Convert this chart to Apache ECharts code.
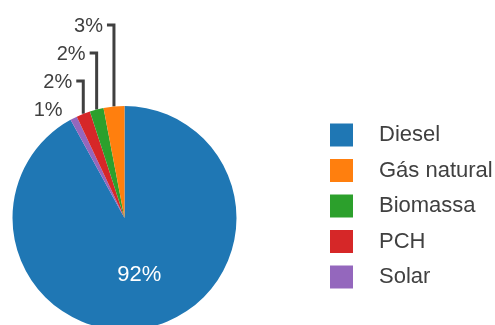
<!DOCTYPE html>
<html>
<head>
<meta charset="utf-8">
<script src="https://cdn.jsdelivr.net/npm/echarts@6/dist/echarts.min.js"></script>
<style>
  html, body { margin: 0; padding: 0; background: #ffffff; }
  #chart { width: 495px; height: 325px; }
</style>
</head>
<body>
<div id="chart"></div>
<script>
// Electricity generation share by source (%)
const categories = ['Diesel', 'Solar', 'PCH', 'Biomassa', 'Gás natural'];
const shares = [92, 1, 2, 2, 3];
const colors = ['#1f77b4', '#9467bd', '#d62728', '#2ca02c', '#ff7f0e'];
const legendOrder = ['Diesel', 'Gás natural', 'Biomassa', 'PCH', 'Solar'];

const CENTER = [124.5, 218];
const RADIUS = 112;
const TEXT = '#404040';

// Small slices get stepped labels above the pie, highest for the last slice.
function stepLevel(dataIndex) {
  const k = categories.length - 1 - dataIndex; // 0 for the last slice
  return CENTER[1] - RADIUS - 81 + 28 * k;
}

const data = categories.map((name, i) => ({
  name: name,
  value: shares[i],
  itemStyle: { color: colors[i] },
  label: i === 0
    ? { position: 'inside', color: '#ffffff', fontSize: 22 }
    : { position: 'outside', color: TEXT, fontSize: 20 },
  labelLine: { show: i !== 0 && name !== 'Solar' }
}));

const chart = echarts.init(document.getElementById('chart'), null, { renderer: 'canvas' });
chart.setOption({
  backgroundColor: '#ffffff',
  animation: false,
  textStyle: { fontFamily: '"Liberation Sans", Arial, sans-serif' },
  legend: {
    orient: 'vertical',
    left: 330,
    top: 123.5,
    padding: 0,
    itemWidth: 23,
    itemHeight: 23,
    itemGap: 12.5,
    icon: 'rect',
    data: legendOrder,
    textStyle: { color: TEXT, fontSize: 22, padding: [0, 0, 0, 21] }
  },
  series: [{
    type: 'pie',
    center: CENTER,
    radius: RADIUS,
    startAngle: 90,
    clockwise: true,
    avoidLabelOverlap: false,
    data: data,
    label: {
      formatter: p => p.value + '%',
      fontFamily: '"Liberation Sans", Arial, sans-serif'
    },
    labelLine: {
      length: 10,
      length2: 7,
      lineStyle: { color: TEXT, width: 3 }
    },
    emphasis: { disabled: true },
    labelLayout: function (params) {
      const i = params.dataIndex;
      if (i === 0 || !params.labelLinePoints) return {};
      const start = params.labelLinePoints[0];
      const level = stepLevel(i);
      return {
        x: start[0] - 11,
        y: level + 1,
        align: 'right',
        verticalAlign: 'middle',
        labelLinePoints: [
          [start[0], start[1]],
          [start[0], level],
          [start[0] - 7, level]
        ]
      };
    }
  }]
});
</script>
</body>
</html>
